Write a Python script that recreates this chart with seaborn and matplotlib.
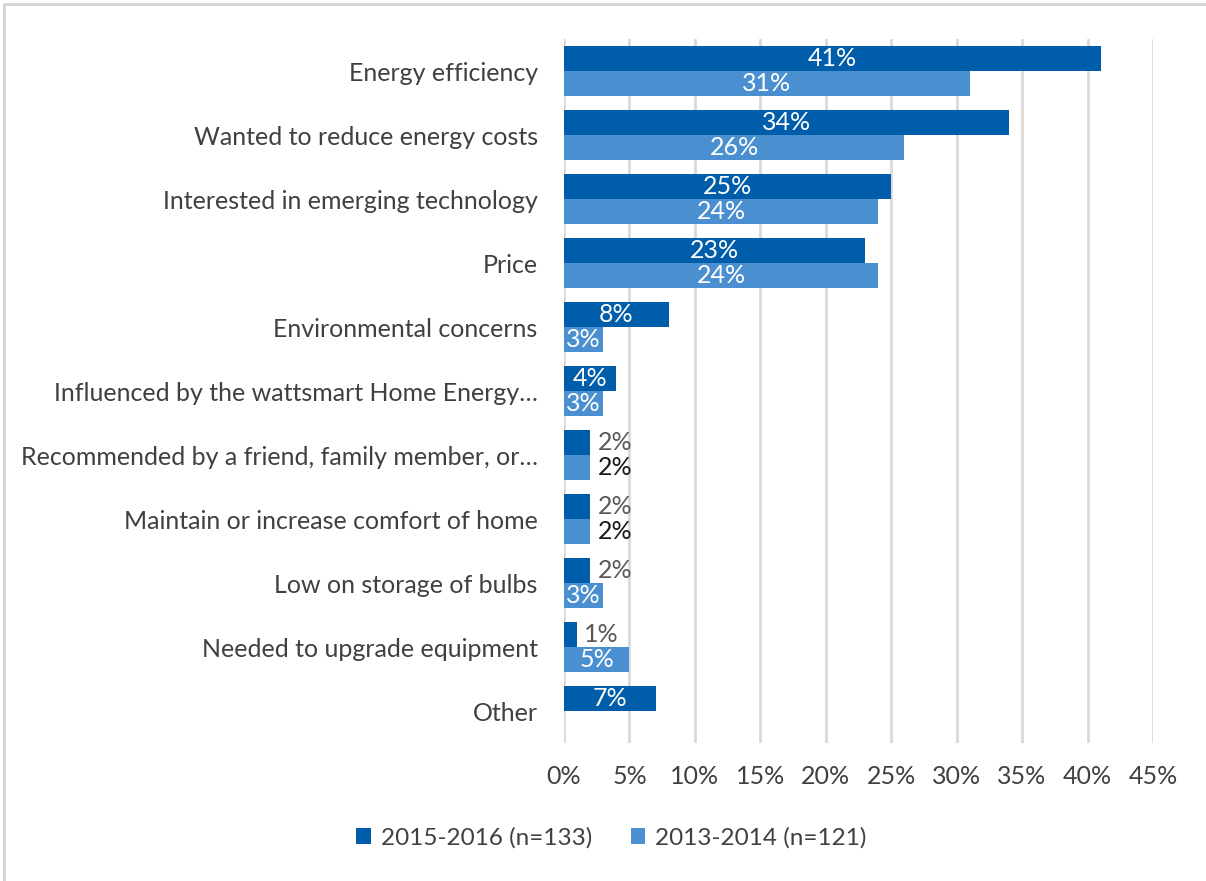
import matplotlib
matplotlib.use("Agg")
import matplotlib.pyplot as plt
import seaborn as sns
import pandas as pd
from matplotlib.lines import Line2D

categories = [
    "Energy efficiency",
    "Wanted to reduce energy costs",
    "Interested in emerging technology",
    "Price",
    "Environmental concerns",
    "Influenced by the wattsmart Home Energy…",
    "Recommended by a friend, family member, or…",
    "Maintain or increase comfort of home",
    "Low on storage of bulbs",
    "Needed to upgrade equipment",
    "Other",
]
series_names = ["2015-2016 (n=133)", "2013-2014 (n=121)"]
values_2015 = [41, 34, 25, 23, 8, 4, 2, 2, 2, 1, 7]
values_2013 = [31, 26, 24, 24, 3, 3, 2, 2, 3, 5, 0]
x_ticks = [0, 5, 10, 15, 20, 25, 30, 35, 40, 45]

df = pd.DataFrame({
    "category": categories * 2,
    "series": [series_names[0]] * len(categories) + [series_names[1]] * len(categories),
    "value": values_2015 + values_2013,
})

dark = "#005DAA"
light = "#4A90D0"
text_grey = "#404040"

sns.set_theme(style="white")
plt.rcParams["font.family"] = ["Lato", "DejaVu Sans"]

fig = plt.figure(figsize=(12.06, 8.81), dpi=100)
ax = fig.add_axes([0.4677, 0.1566, 0.4883, 0.7991])

sns.barplot(data=df, y="category", x="value", hue="series", order=categories,
            hue_order=series_names, palette=[dark, light], orient="h",
            width=0.78, saturation=1, linewidth=0, ax=ax, legend=True)

ax.set_xlim(0, 45)
ax.set_ylim(len(categories) - 0.5, -0.5)
ax.set_xticks(x_ticks)
ax.set_xticklabels([f"{t}%" for t in x_ticks], fontsize=18, color=text_grey)
ax.tick_params(axis="x", pad=16, length=0)
ax.tick_params(axis="y", length=0, pad=19, labelsize=18, labelcolor=text_grey)
ax.set_xlabel("")
ax.set_ylabel("")
ax.xaxis.grid(True, color="#D9D9D9", linewidth=2)
ax.set_axisbelow(True)
for s in ax.spines.values():
    s.set_visible(False)

# value labels: white inside the bar, grey/black just past the end for narrow bars
outside = {(0, 6): "#595959", (1, 6): "#1a1a1a", (0, 7): "#595959", (1, 7): "#1a1a1a",
           (0, 8): "#595959", (0, 9): "#595959"}
for si, cont in enumerate(ax.containers):
    vals = values_2015 if si == 0 else values_2013
    for ci, (bar, v) in enumerate(zip(cont, vals)):
        if v == 0:
            continue
        yc = bar.get_y() + bar.get_height() / 2
        if (si, ci) in outside:
            ax.text(v + 0.55, yc, f"{v}%", ha="left", va="center", fontsize=18,
                    color=outside[(si, ci)])
        else:
            t = ax.text(v / 2, yc, f"{v}%", ha="center", va="center", fontsize=18,
                        color="white")
            t.set_clip_path(bar)

leg = ax.get_legend()
handles = leg.legend_handles
leg.remove()
fig.legend(handles, series_names, loc="center", bbox_to_anchor=(0.507, 0.049),
           ncol=2, frameon=False, fontsize=17.5, handlelength=0.6, handleheight=0.6,
           columnspacing=1.6, handletextpad=0.4, labelcolor=text_grey)

# chart-area frame (left and top edges)
fig.lines.append(Line2D([0.003, 0.003], [0.0, 0.995], transform=fig.transFigure,
                        color="#D4D4D4", linewidth=2))
fig.lines.append(Line2D([0.003, 1.0], [0.995, 0.995], transform=fig.transFigure,
                        color="#D4D4D4", linewidth=2))

fig.savefig("out.png", dpi=100)
